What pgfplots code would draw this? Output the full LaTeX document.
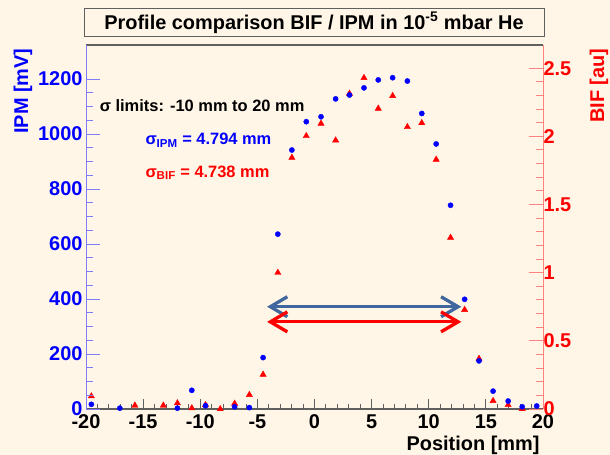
\documentclass[border=0pt]{standalone}
\usepackage{pgfplots}
\pgfplotsset{compat=1.18}
\usepackage{fontspec}
\setmainfont{Liberation Sans}
\usetikzlibrary{arrows.meta}

\definecolor{bgcream}{RGB}{255,246,231}
\definecolor{ipmblue}{RGB}{0,0,255}
\definecolor{bifred}{RGB}{255,0,0}
\definecolor{ipmtick}{RGB}{125,125,250}
\definecolor{biftick}{RGB}{255,130,130}
\definecolor{arrowblue}{RGB}{64,104,158}
\definecolor{framegray}{RGB}{95,95,95}

\newcommand{\rootlarge}{\fontsize{20}{22}\selectfont\bfseries}
\newcommand{\rootmid}{\fontsize{16.5}{18}\selectfont\bfseries}

\pgfplotsset{
  rootbase/.style={
    at={(86bp,46bp)}, anchor=south west,
    scale only axis, width=457bp, height=364bp,
    xmin=-20, xmax=20, clip=false,
    tick align=inside,
    /pgf/number format/assume math mode=true,
    /pgf/number format/1000 sep={},
    ticklabel style={font=\rootlarge},
  }
}

\begin{document}
\begin{tikzpicture}
\fill[bgcream] (0,0) rectangle (610bp,455bp);
\path[use as bounding box] (0,0) rectangle (610bp,455bp);

% x axis, frame, annotations
\begin{axis}[rootbase, ymin=0, ymax=1324,
  axis x line=box, axis y line=none, xtick pos=bottom,
  xtick={-20,-15,...,20}, minor x tick num=4,
  major tick length=10bp, minor tick length=5bp,
  x axis line style={framegray, line width=1.2bp},
  xtick style={framegray, line width=0.9bp},
  xticklabel style={yshift=-2bp},
  xlabel={Position [mm]},
  every axis x label/.style={at={(rel axis cs:1,-0.1)}, anchor=east, font=\rootlarge}]
\node[anchor=west, font=\rootmid] at (axis cs:-19.1,1103) {σ limits: -10 mm to 20 mm};
\node[anchor=west, font=\rootmid, ipmblue] at (axis cs:-15.1,978) {σ\textsubscript{IPM} = 4.794 mm};
\node[anchor=west, font=\rootmid, bifred] at (axis cs:-15.1,859) {σ\textsubscript{BIF} = 4.738 mm};
\draw[arrowblue, line width=3.3bp,
  {Straight Barb[length=17bp,width=20bp]}-{Straight Barb[length=17bp,width=20bp]}]
  (axis cs:-4.15,372) -- (axis cs:12.85,372);
\draw[bifred, line width=3.3bp,
  {Straight Barb[length=17bp,width=20bp]}-{Straight Barb[length=17bp,width=20bp]}]
  (axis cs:-4.15,317) -- (axis cs:12.85,317);
\end{axis}

% BIF (right axis)
\begin{axis}[rootbase, ymin=0, ymax=2.67,
  axis x line=none, axis y line*=right, xtick=\empty,
  ytick={0,0.5,...,2.5}, minor y tick num=4,
  major tick length=14bp, minor tick length=7bp,
  y axis line style={biftick, line width=1bp},
  ytick style={biftick, line width=1bp},
  yticklabel style={bifred, xshift=-3bp},
  ylabel={BIF [au]},
  every axis y label/.style={at={(rel axis cs:1.1225,1)}, rotate=90, anchor=east, font=\rootlarge, bifred}]
\addplot[only marks, mark=triangle*, mark size=3.6bp, bifred] coordinates {
  (-19.53,0.094) (-15.72,0.026) (-13.23,0.026) (-12.00,0.043) (-10.74,0.006)
  (-9.54,0.030) (-8.25,0.000) (-6.99,0.040) (-5.70,0.104) (-4.50,0.253)
  (-3.21,1.000) (-1.98,1.844) (-0.72,2.003) (0.57,2.094) (1.85,1.971)
  (3.06,2.314) (4.33,2.429) (5.58,2.204) (6.84,2.297) (8.13,2.069)
  (9.39,2.098) (10.65,1.830) (11.91,1.257) (13.14,0.728) (14.40,0.369)
  (15.63,0.060) (16.95,0.030) (18.18,0.000)
};
\end{axis}

% IPM (left axis)
\begin{axis}[rootbase, ymin=0, ymax=1324,
  axis x line=none, axis y line*=left, xtick=\empty,
  ytick={0,200,...,1200}, minor y tick num=3,
  major tick length=14bp, minor tick length=7bp,
  y axis line style={ipmtick, line width=1bp},
  ytick style={ipmtick, line width=1bp},
  yticklabel style={ipmblue},
  ylabel={IPM [mV]},
  every axis y label/.style={at={(rel axis cs:-0.138,1)}, rotate=90, anchor=east, font=\rootlarge, ipmblue}]
\addplot[only marks, mark=*, mark size=2.6bp, ipmblue] coordinates {
  (-19.53,17) (-17.04,3) (-12.00,3) (-10.74,68) (-9.54,12) (-6.99,8)
  (-5.70,5) (-4.50,187) (-3.21,636) (-1.98,942) (-0.72,1045) (0.57,1063)
  (1.85,1128) (3.06,1142) (4.33,1168) (5.58,1197) (6.84,1205) (8.13,1193)
  (9.39,1075) (10.65,964) (11.91,741) (13.14,399) (14.40,175) (15.63,65)
  (16.95,29) (18.18,8) (19.45,11)
};
\end{axis}

\node[draw=framegray, line width=1bp, fill=bgcream, minimum width=460bp,
  minimum height=28bp, inner sep=0pt, font=\fontsize{20}{22}\selectfont\bfseries]
  at (314bp,432bp) {Profile comparison BIF / IPM in 10\textsuperscript{-5} mbar He};
\end{tikzpicture}
\end{document}
